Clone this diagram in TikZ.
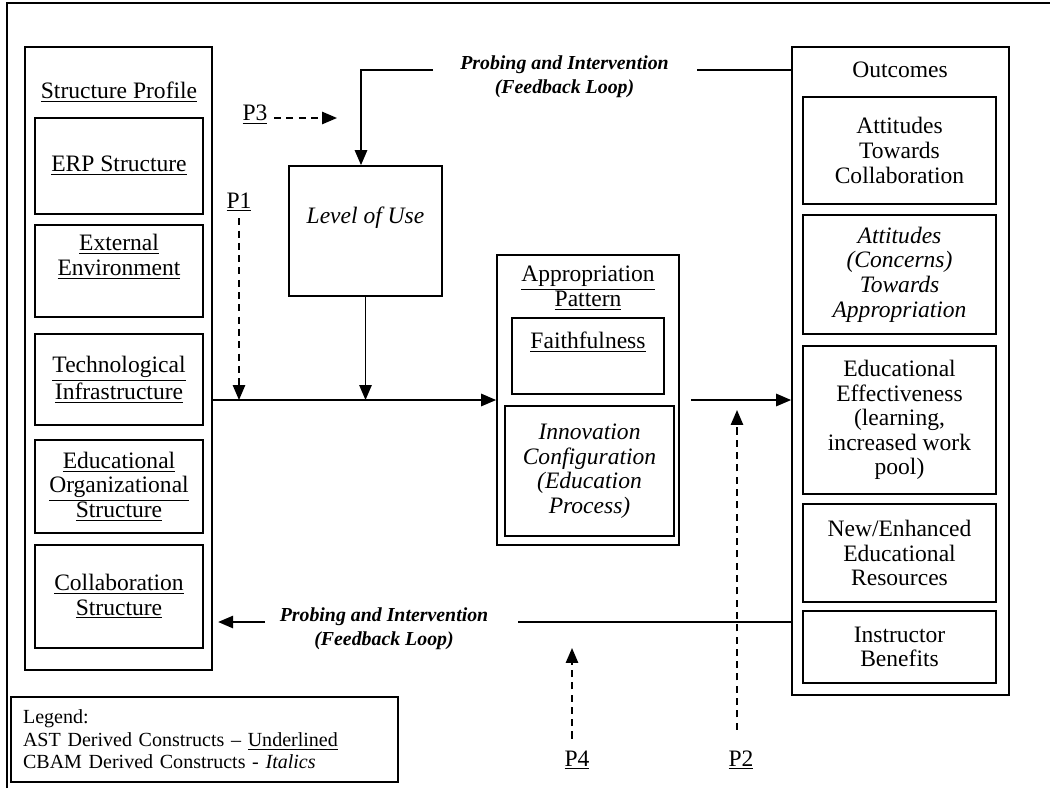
\documentclass[tikz,border=0pt]{standalone}
\usepackage{fontspec}
\setmainfont{Liberation Serif}
\usetikzlibrary{arrows.meta}

\newcommand\boxfont{\fontsize{13.4}{14}\selectfont}
\newcommand\fbfont{\fontsize{11.3}{13.7}\selectfont\bfseries\itshape}
\newcommand\legfont{\fontsize{11.4}{12.8}\selectfont}

\begin{document}
\begin{tikzpicture}[x=0.02cm, y=-0.02cm, line width=1pt,
  box/.style={draw, align=center, inner sep=0pt, font=\boxfont},
  sidebox/.style={box, minimum width=3.36cm},
  outbox/.style={box, minimum width=3.86cm},
  plabel/.style={font=\boxfont},
  fbtext/.style={font=\fbfont, align=center},
  arr/.style={-{Triangle[length=8.5pt,width=7pt]}},
  dasharr/.style={arr, dash pattern=on 4pt off 3pt}]

\useasboundingbox (0,0) rectangle (1050,788);
% frame
\draw[line width=1.3pt] (7,788) -- (7,3) -- (1050,3);

% structure profile
\node[box, minimum width=3.74cm, minimum height=12.46cm] (sp) at (118.5,358.5) {};
\node[plabel] (sptitle) at (119,92) {\underline{Structure Profile}};
\node[sidebox, minimum height=1.92cm] (erp) at (119,166) {\underline{ERP Structure}};
\node[sidebox, minimum height=1.84cm] (extenv) at (119,271) {\underline{External}\\\underline{Environment}\\\strut};
\node[sidebox, minimum height=1.82cm] (techinf) at (119,379.5) {\underline{Technological}\\\underline{Infrastructure}};
\node[sidebox, minimum height=1.86cm] (edorg) at (119,486.5) {\underline{Educational}\\\underline{Organizational}\\\underline{Structure}};
\node[sidebox, minimum height=2.06cm] (collab) at (119,596.5) {\underline{Collaboration}\\\underline{Structure}};

% level of use
\node[box, minimum width=3.06cm, minimum height=2.6cm] (lou) at (365.5,231) {\textit{Level of Use}\\\strut};

% appropriation pattern
\node[box, minimum width=3.64cm, minimum height=5.8cm] (appro) at (588,400) {};
\node[plabel, align=center] (approtitle) at (588,288) {\underline{Appropriation}\\\underline{Pattern}};
\node[box, minimum width=3.04cm, minimum height=1.52cm] (faith) at (588,356) {\underline{Faithfulness}\\\strut};
\node[box, minimum width=3.38cm, minimum height=2.6cm] (innov) at (589.5,471) {\textit{Innovation}\\\textit{Configuration}\\\textit{(Education}\\\textit{Process)}};

% outcomes
\node[box, minimum width=4.34cm, minimum height=12.96cm] (outcomes) at (900.5,371) {};
\node[plabel] (outtitle) at (900,70) {Outcomes};
\node[outbox, minimum height=2.14cm] (attcollab) at (899.5,150.5) {Attitudes\\Towards\\Collaboration};
\node[outbox, minimum height=2.38cm] (attconc) at (899.5,274.5) {\textit{Attitudes}\\\textit{(Concerns)}\\\textit{Towards}\\\textit{Appropriation}};
\node[outbox, minimum height=2.96cm] (edeff) at (899.5,420) {Educational\\Effectiveness\\(learning,\\increased work\\pool)};
\node[outbox, minimum height=1.96cm] (newres) at (899.5,553) {New/Enhanced\\Educational\\Resources};
\node[outbox, minimum height=1.44cm] (instr) at (899.5,647) {Instructor\\Benefits};

% legend
\node[draw, minimum width=7.74cm, minimum height=1.7cm, inner xsep=0.24cm,
  text width=7.26cm, align=left, font=\legfont] (legend) at (204.5,739.5)
  {Legend:\\AST Derived Constructs – \underline{Underlined}\\CBAM Derived Constructs - \textit{Italics}};

% propositions
\node[plabel] (p1) at (239,202) {\underline{P1}};
\node[plabel] (p2) at (741,760) {\underline{P2}};
\node[plabel] (p3) at (255,115) {\underline{P3}};
\node[plabel] (p4) at (577,760) {\underline{P4}};

% feedback loops
\node[fbtext] (fbtop) at (564.5,77) {Probing and Intervention\\(Feedback Loop)};
\node[fbtext] (fbbot) at (384,629) {Probing and Intervention\\(Feedback Loop)};

\coordinate (fbtopR) at (697,70);
\coordinate (fbtopL) at (433,70);
\coordinate (fbbend) at (361,70);
\coordinate (fbbotR) at (518,622);
\coordinate (fbbotL) at (265,622);
\coordinate (p2start) at (691,400);
\coordinate (p2tip) at (737,410);
\coordinate (p3tip) at (337,118);
\coordinate (p4tip) at (572,648);

% main flow
\draw[arr] (sp.east |- appro.west) -- (appro.west);
\draw[arr] (lou.south) -- (lou.south |- appro.west);
\draw[arr] (p2start) -- (outcomes.west |- p2start);

\draw (outcomes.west |- fbtopR) -- (fbtopR);
\draw[arr] (fbtopL) -- (fbbend) -- (fbbend |- lou.north);
\draw (outcomes.west |- fbbotR) -- (fbbotR);
\draw[arr] (fbbotL) -- ([xshift=3pt]sp.east |- fbbotL);

\draw[dasharr] (p1.south) -- (p1.south |- appro.west);
\draw[dasharr] (p3.east |- p3tip) -- (p3tip);
\draw[dasharr, shorten <=3pt] (p4.north -| p4tip) -- (p4tip);
\draw[dasharr, shorten <=8pt] (p2.north -| p2tip) -- (p2tip);
\end{tikzpicture}
\end{document}
